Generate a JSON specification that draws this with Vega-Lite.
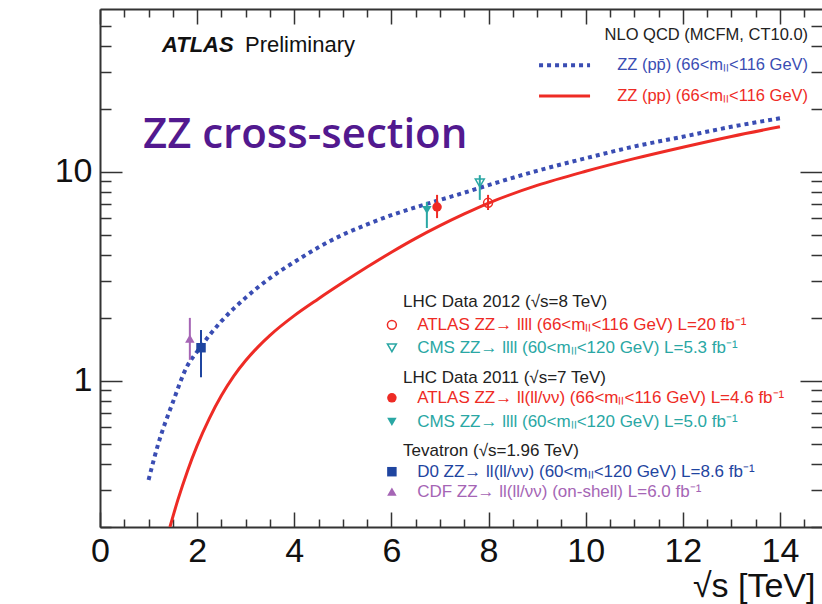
{
  "$schema": "https://vega.github.io/schema/vega-lite/v6.json",
  "width": 722,
  "height": 518,
  "autosize": "none",
  "padding": {"left": 100, "top": 9, "right": 0, "bottom": 77},
  "background": "white",
  "config": {"view": {"stroke": null}, "font": "Liberation Sans"},
  "datasets": {
    "curves": [
      {"series": "pp̄ NLO", "sqrt_s": 1.0, "sigma": 0.336},
      {"series": "pp̄ NLO", "sqrt_s": 1.2, "sigma": 0.5},
      {"series": "pp̄ NLO", "sqrt_s": 1.5, "sigma": 0.79},
      {"series": "pp̄ NLO", "sqrt_s": 1.79, "sigma": 1.17},
      {"series": "pp̄ NLO", "sqrt_s": 2.0, "sigma": 1.38},
      {"series": "pp̄ NLO", "sqrt_s": 2.5, "sigma": 1.93},
      {"series": "pp̄ NLO", "sqrt_s": 3.0, "sigma": 2.5},
      {"series": "pp̄ NLO", "sqrt_s": 3.5, "sigma": 3.1},
      {"series": "pp̄ NLO", "sqrt_s": 4.0, "sigma": 3.7},
      {"series": "pp̄ NLO", "sqrt_s": 4.5, "sigma": 4.35},
      {"series": "pp̄ NLO", "sqrt_s": 5.0, "sigma": 5.0},
      {"series": "pp̄ NLO", "sqrt_s": 5.5, "sigma": 5.6},
      {"series": "pp̄ NLO", "sqrt_s": 6.0, "sigma": 6.2},
      {"series": "pp̄ NLO", "sqrt_s": 6.5, "sigma": 6.76},
      {"series": "pp̄ NLO", "sqrt_s": 7.0, "sigma": 7.33},
      {"series": "pp̄ NLO", "sqrt_s": 7.5, "sigma": 7.94},
      {"series": "pp̄ NLO", "sqrt_s": 8.0, "sigma": 8.63},
      {"series": "pp̄ NLO", "sqrt_s": 9.0, "sigma": 10.1},
      {"series": "pp̄ NLO", "sqrt_s": 10.0, "sigma": 11.6},
      {"series": "pp̄ NLO", "sqrt_s": 11.0, "sigma": 13.2},
      {"series": "pp̄ NLO", "sqrt_s": 12.0, "sigma": 14.7},
      {"series": "pp̄ NLO", "sqrt_s": 13.0, "sigma": 16.4},
      {"series": "pp̄ NLO", "sqrt_s": 14.0, "sigma": 18.0},
      {"series": "pp NLO", "sqrt_s": 1.44, "sigma": 0.2},
      {"series": "pp NLO", "sqrt_s": 1.6, "sigma": 0.268},
      {"series": "pp NLO", "sqrt_s": 1.8, "sigma": 0.37},
      {"series": "pp NLO", "sqrt_s": 2.0, "sigma": 0.49},
      {"series": "pp NLO", "sqrt_s": 2.25, "sigma": 0.66},
      {"series": "pp NLO", "sqrt_s": 2.5, "sigma": 0.85},
      {"series": "pp NLO", "sqrt_s": 2.75, "sigma": 1.05},
      {"series": "pp NLO", "sqrt_s": 3.0, "sigma": 1.25},
      {"series": "pp NLO", "sqrt_s": 3.25, "sigma": 1.45},
      {"series": "pp NLO", "sqrt_s": 3.5, "sigma": 1.65},
      {"series": "pp NLO", "sqrt_s": 4.0, "sigma": 2.05},
      {"series": "pp NLO", "sqrt_s": 4.5, "sigma": 2.47},
      {"series": "pp NLO", "sqrt_s": 5.0, "sigma": 2.95},
      {"series": "pp NLO", "sqrt_s": 5.5, "sigma": 3.5},
      {"series": "pp NLO", "sqrt_s": 6.0, "sigma": 4.12},
      {"series": "pp NLO", "sqrt_s": 6.5, "sigma": 4.8},
      {"series": "pp NLO", "sqrt_s": 7.0, "sigma": 5.52},
      {"series": "pp NLO", "sqrt_s": 7.5, "sigma": 6.28},
      {"series": "pp NLO", "sqrt_s": 8.0, "sigma": 7.08},
      {"series": "pp NLO", "sqrt_s": 9.0, "sigma": 8.6},
      {"series": "pp NLO", "sqrt_s": 10.0, "sigma": 10.05},
      {"series": "pp NLO", "sqrt_s": 11.0, "sigma": 11.55},
      {"series": "pp NLO", "sqrt_s": 12.0, "sigma": 13.1},
      {"series": "pp NLO", "sqrt_s": 13.0, "sigma": 14.75},
      {"series": "pp NLO", "sqrt_s": 14.0, "sigma": 16.4}
    ],
    "measurements": [
      {"series": "CDF", "sqrt_s": 1.85, "sigma": 1.59, "lo": 1.26, "hi": 2.0},
      {"series": "D0", "sqrt_s": 2.08, "sigma": 1.44, "lo": 1.04, "hi": 1.75},
      {"series": "CMS 2011", "sqrt_s": 6.73, "sigma": 6.56, "lo": 5.38, "hi": 7.17},
      {"series": "ATLAS 2011", "sqrt_s": 6.94, "sigma": 6.78, "lo": 6.0, "hi": 7.75},
      {"series": "CMS 2012", "sqrt_s": 7.82, "sigma": 8.84, "lo": 7.33, "hi": 9.63},
      {"series": "ATLAS 2012", "sqrt_s": 7.99, "sigma": 7.1, "lo": 6.56, "hi": 7.75}
    ],
    "legend": [
      {"series": "header", "label": "LHC Data 2012 (√s=8 TeV)", "lx": 6.24, "ly": 2.385},
      {"series": "ATLAS 2012", "label": "ATLAS ZZ→ llll (66<mₗₗ<116 GeV) L=20 fb⁻¹", "lx": 6.53, "ly": 1.852, "sx": 6.01},
      {"series": "CMS 2012", "label": "CMS ZZ→ llll (60<mₗₗ<120 GeV) L=5.3 fb⁻¹", "lx": 6.53, "ly": 1.438, "sx": 6.01},
      {"series": "header", "label": "LHC Data 2011 (√s=7 TeV)", "lx": 6.24, "ly": 1.033},
      {"series": "ATLAS 2011", "label": "ATLAS ZZ→ ll(ll/νν) (66<mₗₗ<116 GeV) L=4.6 fb⁻¹", "lx": 6.53, "ly": 0.8295, "sx": 6.01},
      {"series": "CMS 2011", "label": "CMS ZZ→ llll (60<mₗₗ<120 GeV) L=5.0 fb⁻¹", "lx": 6.53, "ly": 0.637, "sx": 6.01},
      {"series": "header", "label": "Tevatron (√s=1.96 TeV)", "lx": 6.24, "ly": 0.463},
      {"series": "D0", "label": "D0 ZZ→ ll(ll/νν) (60<mₗₗ<120 GeV) L=8.6 fb⁻¹", "lx": 6.53, "ly": 0.3677, "sx": 6.01},
      {"series": "CDF", "label": "CDF ZZ→ ll(ll/νν) (on-shell) L=6.0 fb⁻¹", "lx": 6.53, "ly": 0.295, "sx": 6.01}
    ],
    "toplegend": [
      {"series": "header", "label": "NLO QCD (MCFM, CT10.0)", "lx": 14.58, "ly": 45.0},
      {"series": "pp̄ NLO", "label": "ZZ (pp̄) (66<mₗₗ<116 GeV)", "lx": 14.58, "ly": 32.3, "x1": 9.04, "x2": 10.09},
      {"series": "pp NLO", "label": "ZZ (pp) (66<mₗₗ<116 GeV)", "lx": 14.58, "ly": 23.0, "x1": 9.04, "x2": 10.09}
    ],
    "notes": [
      {"kind": "atlas", "label": "ATLAS", "lx": 1.276, "ly": 37.3},
      {"kind": "prelim", "label": "Preliminary", "lx": 2.985, "ly": 37.3},
      {"kind": "title", "label": "ZZ cross-section", "lx": 0.885, "ly": 12.98}
    ]
  },
  "layer": [
    {
      "data": {"name": "measurements"},
      "mark": {"type": "point", "opacity": 0},
      "encoding": {
        "x": {"field": "sqrt_s", "type": "quantitative",
          "scale": {"domain": [0, 14.866], "nice": false, "zero": false},
          "axis": {
            "orient": "bottom", "values": [0,2,4,6,8,10,12,14],
            "format": "d", "labelFontSize": 34, "labelColor": "#111", "labelFont": "Liberation Sans",
            "labelFlush": false, "labelOverlap": false, "labelBound": false, "labelPadding": 7,
            "ticks": false,
            "domain": true, "domainColor": "#333", "domainWidth": 2, "grid": false,
            "title": "√s [TeV]", "titleFontSize": 34, "titleFontWeight": "normal", "titleColor": "#111",
            "titleAlign": "right", "titleAnchor": "end", "titleX": 715, "titleY": 69, "titleBaseline": "alphabetic"
          }
        },
        "y": {"field": "sigma", "type": "quantitative",
          "scale": {"type": "log", "domain": [0.2, 60], "nice": false},
          "axis": {
            "orient": "left", "values": [1, 10],
            "format": "~g", "labelFontSize": 34, "labelColor": "#111", "labelFont": "Liberation Sans",
            "labelFlush": false, "labelOverlap": false, "labelBound": false, "labelPadding": 8,
            "ticks": false,
            "domain": true, "domainColor": "#333", "domainWidth": 2, "grid": false, "title": null
          }
        }
      }
    },
    {
      "data": {"name": "measurements"},
      "mark": {"type": "point", "opacity": 0},
      "encoding": {
        "x": {"field": "sqrt_s", "type": "quantitative",
          "axis": {"orient": "bottom", "values": [0,2,4,6,8,10,12,14], "labels": false, "tickSize": -15, "tickColor": "#333", "tickWidth": 1.5, "domain": false, "grid": false, "title": null}
        },
        "y": {"field": "sigma", "type": "quantitative",
          "axis": {"orient": "left", "values": [1, 10], "labels": false, "tickSize": -22, "tickColor": "#333", "tickWidth": 1.5, "domain": false, "grid": false, "title": null}
        }
      }
    },
    {
      "data": {"name": "measurements"},
      "mark": {"type": "point", "opacity": 0},
      "encoding": {
        "x": {"field": "sqrt_s", "type": "quantitative",
          "axis": {"orient": "top", "offset": -518, "values": [0.5,1,1.5,2.5,3,3.5,4.5,5,5.5,6.5,7,7.5,8.5,9,9.5,10.5,11,11.5,12.5,13,13.5,14.5], "labels": false, "tickSize": 8, "tickColor": "#333", "tickWidth": 1.5, "domain": false, "grid": false, "title": null}
        },
        "y": {"field": "sigma", "type": "quantitative",
          "axis": {"orient": "right", "offset": -722, "values": [0.2,0.3,0.4,0.5,0.6,0.7,0.8,0.9,2,3,4,5,6,7,8,9,20,30,40,50], "labels": false, "tickSize": 11, "tickColor": "#333", "tickWidth": 1.5, "domain": false, "grid": false, "title": null}
        }
      }
    },
    {
      "data": {"name": "measurements"},
      "mark": {"type": "point", "opacity": 0},
      "encoding": {
        "x": {"field": "sqrt_s", "type": "quantitative",
          "axis": {
            "orient": "top", "values": [0,0.5,1,1.5,2,2.5,3,3.5,4,4.5,5,5.5,6,6.5,7,7.5,8,8.5,9,9.5,10,10.5,11,11.5,12,12.5,13,13.5,14,14.5],
            "labels": false,
            "tickSize": {"condition": {"test": "datum.value % 2 === 0", "value": -15}, "value": -8},
            "tickColor": "#333", "tickWidth": 1.5,
            "domain": true, "domainColor": "#333", "domainWidth": 2, "grid": false, "title": null
          }
        },
        "y": {"field": "sigma", "type": "quantitative",
          "axis": {
            "orient": "right", "values": [0.2,0.3,0.4,0.5,0.6,0.7,0.8,0.9,1,2,3,4,5,6,7,8,9,10,20,30,40,50],
            "labels": false,
            "tickSize": {"condition": {"test": "datum.value === 1 || datum.value === 10", "value": -22}, "value": -11},
            "tickColor": "#333", "tickWidth": 1.5,
            "domain": false, "grid": false, "title": null
          }
        }
      }
    },
    {
      "layer": [
        {
          "data": {"name": "curves"},
          "transform": [{"filter": "datum.series === 'pp̄ NLO'"}],
          "mark": {"type": "line", "strokeDash": [4, 4], "strokeWidth": 4, "interpolate": "monotone", "clip": true},
          "encoding": {
            "x": {"field": "sqrt_s", "type": "quantitative", "axis": null},
            "y": {"field": "sigma", "type": "quantitative", "axis": null},
            "color": {"field": "series", "type": "nominal",
              "scale": {
                "domain": ["pp̄ NLO", "pp NLO", "ATLAS 2012", "CMS 2012", "ATLAS 2011", "CMS 2011", "D0", "CDF", "header"],
                "range": ["#3a4db3", "#ee2b25", "#ee2b25", "#2aa7a4", "#ee2b25", "#2aa7a4", "#1f45a0", "#a565b5", "#222222"]
              },
              "legend": null}
          }
        },
        {
          "data": {"name": "curves"},
          "transform": [{"filter": "datum.series === 'pp NLO'"}],
          "mark": {"type": "line", "strokeWidth": 3, "interpolate": "monotone", "clip": true},
          "encoding": {
            "x": {"field": "sqrt_s", "type": "quantitative", "axis": null},
            "y": {"field": "sigma", "type": "quantitative", "axis": null},
            "color": {"field": "series", "type": "nominal", "legend": null}
          }
        },
        {
          "data": {"name": "measurements"},
          "mark": {"type": "rule", "strokeWidth": 2},
          "encoding": {
            "x": {"field": "sqrt_s", "type": "quantitative", "axis": null},
            "y": {"field": "lo", "type": "quantitative", "axis": null},
            "y2": {"field": "hi"},
            "color": {"field": "series", "type": "nominal", "legend": null}
          }
        },
        {
          "data": {"name": "measurements"},
          "transform": [{"filter": {"field": "series", "oneOf": ["ATLAS 2011", "CMS 2011", "D0", "CDF"]}}],
          "mark": {"type": "point", "filled": true, "size": 90, "opacity": 1},
          "encoding": {
            "x": {"field": "sqrt_s", "type": "quantitative", "axis": null},
            "y": {"field": "sigma", "type": "quantitative", "axis": null},
            "color": {"field": "series", "type": "nominal", "legend": null},
            "shape": {"field": "series", "type": "nominal", "legend": null,
              "scale": {"domain": ["ATLAS 2012", "CMS 2012", "ATLAS 2011", "CMS 2011", "D0", "CDF"],
                        "range": ["circle", "triangle-down", "circle", "triangle-down", "square", "triangle-up"]}}
          }
        },
        {
          "data": {"name": "measurements"},
          "transform": [{"filter": {"field": "series", "oneOf": ["ATLAS 2012", "CMS 2012"]}}],
          "mark": {"type": "point", "filled": false, "size": 80, "strokeWidth": 1.5, "opacity": 1},
          "encoding": {
            "x": {"field": "sqrt_s", "type": "quantitative", "axis": null},
            "y": {"field": "sigma", "type": "quantitative", "axis": null},
            "color": {"field": "series", "type": "nominal", "legend": null},
            "shape": {"field": "series", "type": "nominal", "legend": null}
          }
        },
        {
          "data": {"name": "legend"},
          "transform": [{"filter": {"field": "series", "oneOf": ["ATLAS 2011", "CMS 2011", "D0", "CDF"]}}],
          "mark": {"type": "point", "filled": true, "size": 90, "opacity": 1},
          "encoding": {
            "x": {"field": "sx", "type": "quantitative", "axis": null},
            "y": {"field": "ly", "type": "quantitative", "axis": null},
            "color": {"field": "series", "type": "nominal", "legend": null},
            "shape": {"field": "series", "type": "nominal", "legend": null}
          }
        },
        {
          "data": {"name": "legend"},
          "transform": [{"filter": {"field": "series", "oneOf": ["ATLAS 2012", "CMS 2012"]}}],
          "mark": {"type": "point", "filled": false, "size": 80, "strokeWidth": 1.5, "opacity": 1},
          "encoding": {
            "x": {"field": "sx", "type": "quantitative", "axis": null},
            "y": {"field": "ly", "type": "quantitative", "axis": null},
            "color": {"field": "series", "type": "nominal", "legend": null},
            "shape": {"field": "series", "type": "nominal", "legend": null}
          }
        },
        {
          "data": {"name": "legend"},
          "mark": {"type": "text", "align": "left", "baseline": "middle", "fontSize": 17, "font": "Liberation Sans"},
          "encoding": {
            "x": {"field": "lx", "type": "quantitative", "axis": null},
            "y": {"field": "ly", "type": "quantitative", "axis": null},
            "text": {"field": "label"},
            "color": {"field": "series", "type": "nominal", "legend": null}
          }
        },
        {
          "data": {"name": "toplegend"},
          "mark": {"type": "text", "align": "right", "baseline": "middle", "fontSize": 16.5, "font": "Liberation Sans"},
          "encoding": {
            "x": {"field": "lx", "type": "quantitative", "axis": null},
            "y": {"field": "ly", "type": "quantitative", "axis": null},
            "text": {"field": "label"},
            "color": {"field": "series", "type": "nominal", "legend": null}
          }
        },
        {
          "data": {"name": "toplegend"},
          "transform": [{"filter": "datum.series === 'pp̄ NLO'"}],
          "mark": {"type": "rule", "strokeWidth": 4, "strokeDash": [4, 4]},
          "encoding": {
            "x": {"field": "x1", "type": "quantitative", "axis": null},
            "x2": {"field": "x2"},
            "y": {"field": "ly", "type": "quantitative", "axis": null},
            "color": {"field": "series", "type": "nominal", "legend": null}
          }
        },
        {
          "data": {"name": "toplegend"},
          "transform": [{"filter": "datum.series === 'pp NLO'"}],
          "mark": {"type": "rule", "strokeWidth": 3},
          "encoding": {
            "x": {"field": "x1", "type": "quantitative", "axis": null},
            "x2": {"field": "x2"},
            "y": {"field": "ly", "type": "quantitative", "axis": null},
            "color": {"field": "series", "type": "nominal", "legend": null}
          }
        },
        {
          "data": {"name": "notes"},
          "transform": [{"filter": "datum.kind === 'atlas'"}],
          "mark": {"type": "text", "align": "left", "baseline": "alphabetic", "fontSize": 22, "fontWeight": "bold", "fontStyle": "italic", "font": "Liberation Sans", "color": "#111"},
          "encoding": {
            "x": {"field": "lx", "type": "quantitative", "axis": null},
            "y": {"field": "ly", "type": "quantitative", "axis": null},
            "text": {"field": "label"}
          }
        },
        {
          "data": {"name": "notes"},
          "transform": [{"filter": "datum.kind === 'prelim'"}],
          "mark": {"type": "text", "align": "left", "baseline": "alphabetic", "fontSize": 22, "font": "Liberation Sans", "color": "#111"},
          "encoding": {
            "x": {"field": "lx", "type": "quantitative", "axis": null},
            "y": {"field": "ly", "type": "quantitative", "axis": null},
            "text": {"field": "label"}
          }
        },
        {
          "data": {"name": "notes"},
          "transform": [{"filter": "datum.kind === 'title'"}],
          "mark": {"type": "text", "align": "left", "baseline": "alphabetic", "fontSize": 42, "fontWeight": 600, "font": "Open Sans", "color": "#52198f"},
          "encoding": {
            "x": {"field": "lx", "type": "quantitative", "axis": null},
            "y": {"field": "ly", "type": "quantitative", "axis": null},
            "text": {"field": "label"}
          }
        }
      ]
    }
  ],
  "resolve": {"axis": {"x": "independent", "y": "independent"}}
}
